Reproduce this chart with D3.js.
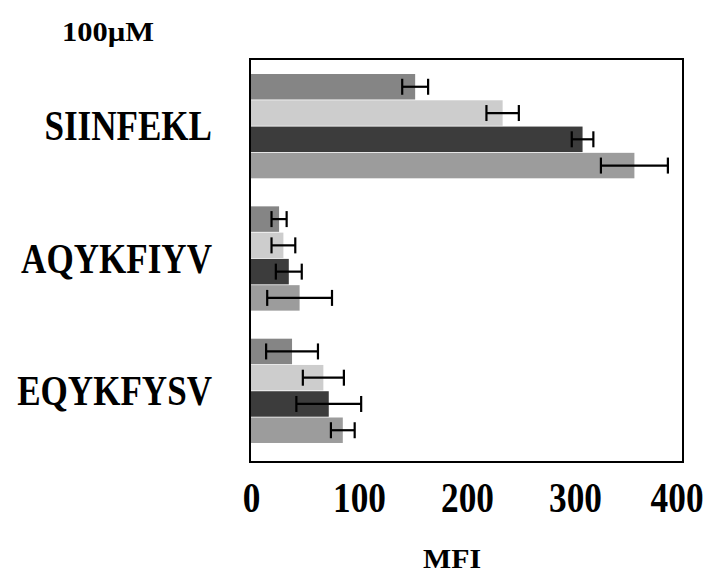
<!DOCTYPE html>
<html>
<head>
<meta charset="utf-8">
<script src="https://cdn.jsdelivr.net/npm/d3@7"></script>
<style>
  html, body { margin: 0; padding: 0; background: #fff; }
  svg { display: block; }
  text { font-family: "Liberation Serif", "DejaVu Serif", serif; font-weight: bold; fill: #000; }
</style>
</head>
<body>
<svg id="chart" width="705" height="576"></svg>
<script>
// Peptides (groups, top to bottom)
const peptides = ["SIINFEKL", "AQYKFIYV", "EQYKFYSV"];
// Four conditions per peptide, drawn top to bottom within each group
const seriesKeys = ["s1", "s2", "s3", "s4"];
const seriesColors = ["#858585", "#cdcdcd", "#3c3c3c", "#9c9c9c"];
// Mean fluorescence intensity per series (index follows peptides)
const s1Values = [152, 26, 38];
const s2Values = [233, 30, 67];
const s3Values = [307, 35, 72];
const s4Values = [355, 45, 85];
// Error (± half-width) per series
const s1Errors = [12, 7, 24];
const s2Errors = [15, 11, 19];
const s3Errors = [10, 12, 30];
const s4Errors = [31, 30, 11];
const xTicks = [0, 100, 200, 300, 400];
const concentrationLabel = "100\u00B5M";
const xTitle = "MFI";

const values = [s1Values, s2Values, s3Values, s4Values];
const errors = [s1Errors, s2Errors, s3Errors, s4Errors];

const W = 705;
const svg = d3.select("#chart");
const frame = { left: 250, right: 683, top: 59, bottom: 462 };

const x = d3.scaleLinear().domain([0, 400]).range([251, 683]);
const y = d3.scaleBand().domain(peptides).range([60, 457]).paddingInner(0.2).paddingOuter(0.1);
const yInner = d3.scaleBand().domain(seriesKeys).range([0, y.bandwidth()]).padding(0.03);

// Bars
const rows = [];
peptides.forEach((p, i) => {
  seriesKeys.forEach((k, j) => {
    rows.push({ peptide: p, key: k, color: seriesColors[j], value: values[j][i], err: errors[j][i] });
  });
});

const g = svg.append("g");
g.selectAll("rect.bar").data(rows).enter().append("rect")
  .attr("class", "bar")
  .attr("x", x(0))
  .attr("y", d => y(d.peptide) + yInner(d.key))
  .attr("width", d => x(d.value) - x(0))
  .attr("height", yInner.bandwidth())
  .attr("fill", d => d.color);

// Error bars
const eb = g.selectAll("g.err").data(rows).enter().append("g").attr("class", "err")
  .attr("transform", d => `translate(0,${y(d.peptide) + yInner(d.key) + yInner.bandwidth() / 2})`);
eb.append("line")
  .attr("x1", d => x(d.value - d.err)).attr("x2", d => x(d.value + d.err))
  .attr("y1", 0).attr("y2", 0)
  .attr("stroke", "#000").attr("stroke-width", 2.2);
eb.append("line")
  .attr("x1", d => x(d.value - d.err)).attr("x2", d => x(d.value - d.err))
  .attr("y1", -8).attr("y2", 8)
  .attr("stroke", "#000").attr("stroke-width", 2.2);
eb.append("line")
  .attr("x1", d => x(d.value + d.err)).attr("x2", d => x(d.value + d.err))
  .attr("y1", -8).attr("y2", 8)
  .attr("stroke", "#000").attr("stroke-width", 2.2);

// Plot frame
svg.append("rect")
  .attr("x", frame.left).attr("y", frame.top)
  .attr("width", frame.right - frame.left).attr("height", frame.bottom - frame.top)
  .attr("fill", "none").attr("stroke", "#000").attr("stroke-width", 2);

// Narrow the glyphs horizontally for a condensed look
function condense(sel, factor) {
  sel.each(function () {
    const w = this.getComputedTextLength();
    d3.select(this).attr("textLength", w * factor).attr("lengthAdjust", "spacingAndGlyphs");
  });
}

// X axis (labels only, no tick marks)
const xAxis = d3.axisBottom(x).tickValues(xTicks).tickSize(0).tickPadding(0).tickFormat(d3.format("d"));
const ax = svg.append("g").attr("transform", `translate(0,${frame.bottom})`).call(xAxis);
ax.select(".domain").remove();
ax.selectAll("text")
  .attr("dy", null).attr("y", 50)
  .style("font-family", '"Liberation Serif", serif').style("font-weight", "bold")
  .style("font-size", "43px").attr("fill", "#000")
  .call(condense, 0.82);

// Keep the last tick label inside the canvas
ax.selectAll(".tick").each(function (d) {
  const t = d3.select(this).select("text");
  const half = (+t.attr("textLength")) / 2;
  const overflow = x(d) + half - (W - 2);
  if (overflow > 0) t.attr("x", -overflow);
});

// Peptide labels
svg.selectAll("text.pep").data(peptides).enter().append("text")
  .attr("class", "pep")
  .attr("x", 212)
  .attr("y", d => y(d) + y.bandwidth() / 2 + 14)
  .attr("text-anchor", "end")
  .style("font-size", "42px")
  .text(d => d)
  .call(condense, 0.835);

// Concentration label
svg.append("text")
  .attr("x", 108).attr("y", 41)
  .attr("text-anchor", "middle")
  .style("font-size", "28px")
  .attr("textLength", 92).attr("lengthAdjust", "spacingAndGlyphs")
  .text(concentrationLabel);

// Axis title
svg.append("text")
  .attr("x", 452).attr("y", 568)
  .attr("text-anchor", "middle")
  .style("font-size", "27px")
  .attr("textLength", 58).attr("lengthAdjust", "spacingAndGlyphs")
  .text(xTitle);
</script>
</body>
</html>
